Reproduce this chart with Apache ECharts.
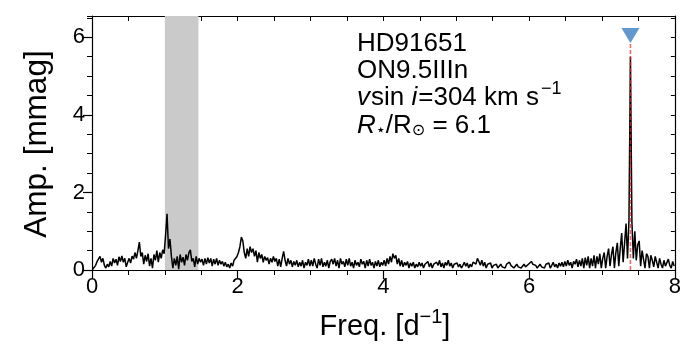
<!DOCTYPE html>
<html><head><meta charset="utf-8">
<script src="https://cdn.jsdelivr.net/npm/echarts@6/dist/echarts.min.js"></script>
<style>html,body{margin:0;padding:0;background:#fff}#c{width:684px;height:356px}</style>
</head><body><div id="c"></div><script>
// Frequency grid (d^-1): first sample and spacing of the periodogram samples
const freqStart = 0.01, freqStep = 0.02;
// Amplitudes (mmag), one array per unit of frequency
const amp0to1 = [0.02,0.05,0.12,0.22,0.18,0.35,0.2,0.3,0.12,0.05,0.15,0.08,0.22,0.1,0.3,0.18,0.28,0.12,0.34,0.22,0.36,0.2,0.3,0.08,0.2,0.3,0.18,0.36,0.28,0.45,0.3,0.5,0.72,0.35,0.45,0.15,0.38,0.22,0.42,0.1,0.3,0.05,0.4,0.25,0.5,0.2,0.45,0.3,0.52,0.42];
const amp1to2 = [0.9,1.45,0.55,0.8,0.35,0.05,0.3,0.12,0.35,0.02,0.4,0.2,0.33,0.12,0.4,0.25,0.45,0.52,0.22,0.3,0.08,0.35,0.15,0.3,0.2,0.28,0.12,0.3,0.15,0.32,0.18,0.3,0.1,0.28,0.15,0.3,0.12,0.25,0.15,0.22,0.1,0.2,0.08,0.15,0.05,0.18,0.1,0.25,0.2,0.35];
const amp2to3 = [0.45,0.6,0.85,0.75,0.45,0.3,0.55,0.35,0.6,0.45,0.55,0.35,0.5,0.2,0.45,0.3,0.4,0.2,0.35,0.25,0.32,0.15,0.3,0.2,0.35,0.22,0.3,0.1,0.28,0.08,0.3,0.48,0.25,0.1,0.3,0.15,0.25,0.08,0.22,0.12,0.25,0.08,0.2,0.1,0.25,0.05,0.2,0.12,0.28,0.1];
const amp3to4 = [0.25,0.1,0.3,0.15,0.05,0.28,0.12,0.3,0.08,0.2,0.1,0.25,0.05,0.22,0.28,0.15,0.3,0.1,0.25,0.05,0.3,0.15,0.22,0.08,0.28,0.12,0.3,0.1,0.2,0.05,0.25,0.12,0.2,0.08,0.28,0.15,0.22,0.05,0.25,0.1,0.28,0.12,0.2,0.05,0.22,0.1,0.25,0.08,0.2,0.12];
const amp4to5 = [0.25,0.1,0.3,0.15,0.35,0.2,0.42,0.3,0.38,0.15,0.3,0.1,0.25,0.08,0.2,0.12,0.22,0.05,0.18,0.1,0.2,0.05,0.15,0.08,0.2,0.1,0.18,0.05,0.15,0.1,0.22,0.08,0.18,0.05,0.15,0.1,0.2,0.12,0.25,0.08,0.18,0.05,0.2,0.12,0.25,0.1,0.18,0.05,0.15,0.1];
const amp5to6 = [0.18,0.08,0.15,0.05,0.12,0.2,0.1,0.18,0.05,0.15,0.08,0.2,0.25,0.15,0.3,0.22,0.12,0.25,0.1,0.2,0.05,0.15,0.1,0.18,0.05,0.12,0.08,0.15,0.05,0.1,0.15,0.08,0.12,0.05,0.15,0.1,0.2,0.12,0.15,0.05,0.1,0.15,0.08,0.12,0.05,0.1,0.15,0.08,0.12,0.15];
const amp6to7 = [0.2,0.22,0.15,0.1,0.12,0.05,0.1,0.15,0.08,0.12,0.05,0.15,0.1,0.18,0.05,0.12,0.2,0.08,0.15,0.05,0.18,0.1,0.2,0.08,0.22,0.1,0.25,0.12,0.2,0.05,0.22,0.15,0.28,0.08,0.25,0.1,0.3,0.05,0.32,0.12,0.35,0.05,0.3,0.1,0.38,0.05,0.35,0.15,0.42,0.05];
const amp7to8 = [0.3,0.45,0.05,0.35,0.55,0.1,0.4,0.6,0.05,0.45,0.7,0.1,0.55,0.95,0.2,0.7,1.2,0.3,1.3,5.5,1.25,0.3,1.0,0.25,0.65,0.75,0.1,0.5,0.45,0.05,0.42,0.35,0.05,0.38,0.25,0.08,0.35,0.2,0.05,0.3,0.15,0.05,0.25,0.1,0.05,0.28,0.12,0.05,0.22,0.1];
// Identified frequency and its marker
const peakFreq = [7.39];
const peakLineTop = [5.85];
const peakMarkerAmp = [6.05];
// Shaded frequency band
const bandFreqs = [1.0, 1.46];
// Axis ticks
const xTicks = [0, 2, 4, 6, 8];
const yTicks = [0, 2, 4, 6];

const amplitudes = [].concat(amp0to1, amp1to2, amp2to3, amp3to4, amp4to5, amp5to6, amp6to7, amp7to8);
const spectrum = amplitudes.map((a, i) => [+(freqStart + i * freqStep).toFixed(2), a]);

const FONT = '"Liberation Sans", Arial, Helvetica, sans-serif';
const black = '#000';
const lineW = 1.2;

const chart = echarts.init(document.getElementById('c'), null, {renderer: 'canvas'});
chart.setOption({
  animation: false,
  backgroundColor: '#fff',
  grid: {left: 92, right: 5, top: 16, bottom: 86, containLabel: false},
  xAxis: [
    {type: 'value', position: 'bottom', min: xTicks[0], max: xTicks[xTicks.length - 1], interval: 2,
      axisLine: {onZero: false, lineStyle: {color: black, width: lineW}},
      axisTick: {length: 9, lineStyle: {color: black, width: lineW}},
      minorTick: {show: true, splitNumber: 4, length: 5, lineStyle: {color: black, width: 1}},
      axisLabel: {color: black, fontSize: 22, fontFamily: FONT, margin: 6},
      splitLine: {show: false}},
    {type: 'value', position: 'top', min: xTicks[0], max: xTicks[xTicks.length - 1], interval: 0.5,
      axisLine: {onZero: false, lineStyle: {color: black, width: lineW}},
      axisTick: {inside: true, length: 5, lineStyle: {color: black, width: 1}},
      axisLabel: {show: false}, splitLine: {show: false}}
  ],
  yAxis: [
    {type: 'value', position: 'left', min: yTicks[0], max: 6.55, interval: 2,
      axisLine: {onZero: false, lineStyle: {color: black, width: lineW}},
      axisTick: {length: 9, lineStyle: {color: black, width: lineW}},
      axisLabel: {color: black, fontSize: 22, fontFamily: FONT, margin: 7, showMaxLabel: false},
      splitLine: {show: false}},
    {type: 'value', position: 'left', min: yTicks[0], max: 6.55, interval: 0.5,
      axisLine: {show: false, onZero: false},
      axisTick: {length: 5, lineStyle: {color: black, width: 1}},
      axisLabel: {show: false}, splitLine: {show: false}},
    {type: 'value', position: 'right', min: yTicks[0], max: 6.55, interval: 0.5,
      axisLine: {onZero: false, lineStyle: {color: black, width: lineW}},
      axisTick: {inside: true, length: 4, lineStyle: {color: black, width: 1}},
      axisLabel: {show: false}, splitLine: {show: false}}
  ],
  series: [
    {type: 'line', data: [], z: 1, silent: true,
      markArea: {silent: true, itemStyle: {color: '#cacaca'},
        data: [[{xAxis: bandFreqs[0]}, {xAxis: bandFreqs[1]}]]}},
    {type: 'line', data: spectrum, showSymbol: false, symbol: 'none', z: 3,
      lineStyle: {color: black, width: 1.5}},
    {type: 'line', data: [[peakFreq[0], 0], [peakFreq[0], peakLineTop[0]]], showSymbol: false, symbol: 'none', z: 4,
      lineStyle: {color: 'rgba(230,40,40,0.7)', width: 1.6, type: [4, 2]}},
    {type: 'scatter', data: [[peakFreq[0], peakMarkerAmp[0]]], symbol: 'triangle', symbolRotate: 180,
      symbolSize: [18, 15], z: 5, itemStyle: {color: '#3a7ec0'}}
  ],
  graphic: [
    {type: 'text', x: 37, y: 144, rotation: Math.PI / 2,
      style: {text: 'Amp. [mmag]', font: '31.5px ' + FONT, fill: black, align: 'center', verticalAlign: 'middle'}},
    {type: 'text', x: 385, y: 327,
      style: {text: 'Freq. [d{sup|−1}]', font: '29px ' + FONT, fill: black, align: 'center', verticalAlign: 'middle',
        lineHeight: 40,
        rich: {sup: {fontSize: 20, fontFamily: FONT, verticalAlign: 'top', fill: black}}}},
    {type: 'text', x: 357, y: 44,
      style: {text: 'HD91651', font: '26px ' + FONT, fill: black, align: 'left', verticalAlign: 'middle'}},
    {type: 'text', x: 357, y: 71,
      style: {text: 'ON9.5IIIn', font: '26px ' + FONT, fill: black, align: 'left', verticalAlign: 'middle'}},
    {type: 'text', x: 357, y: 98,
      style: {text: '{it|v}sin {it|i}=304 km s{sup|−1}', font: '26px ' + FONT, fill: black, align: 'left', verticalAlign: 'middle',
        lineHeight: 36,
        rich: {it: {fontStyle: 'italic', fontSize: 26, fontFamily: FONT, padding: [0, 1, 0, 0]},
               sup: {fontSize: 18, fontFamily: FONT, verticalAlign: 'top', padding: [0, 0, 0, 2]}}}},
    {type: 'text', x: 357, y: 126,
      style: {text: '{it|R}{sub|⋆}/R{sub|⊙} = 6.1', font: '26px ' + FONT, fill: black, align: 'left', verticalAlign: 'middle',
        rich: {it: {fontStyle: 'italic', fontSize: 26, fontFamily: FONT},
               sub: {fontSize: 16, fontFamily: '"DejaVu Sans", sans-serif', verticalAlign: 'bottom'}}}}
  ]
});
</script></body></html>
